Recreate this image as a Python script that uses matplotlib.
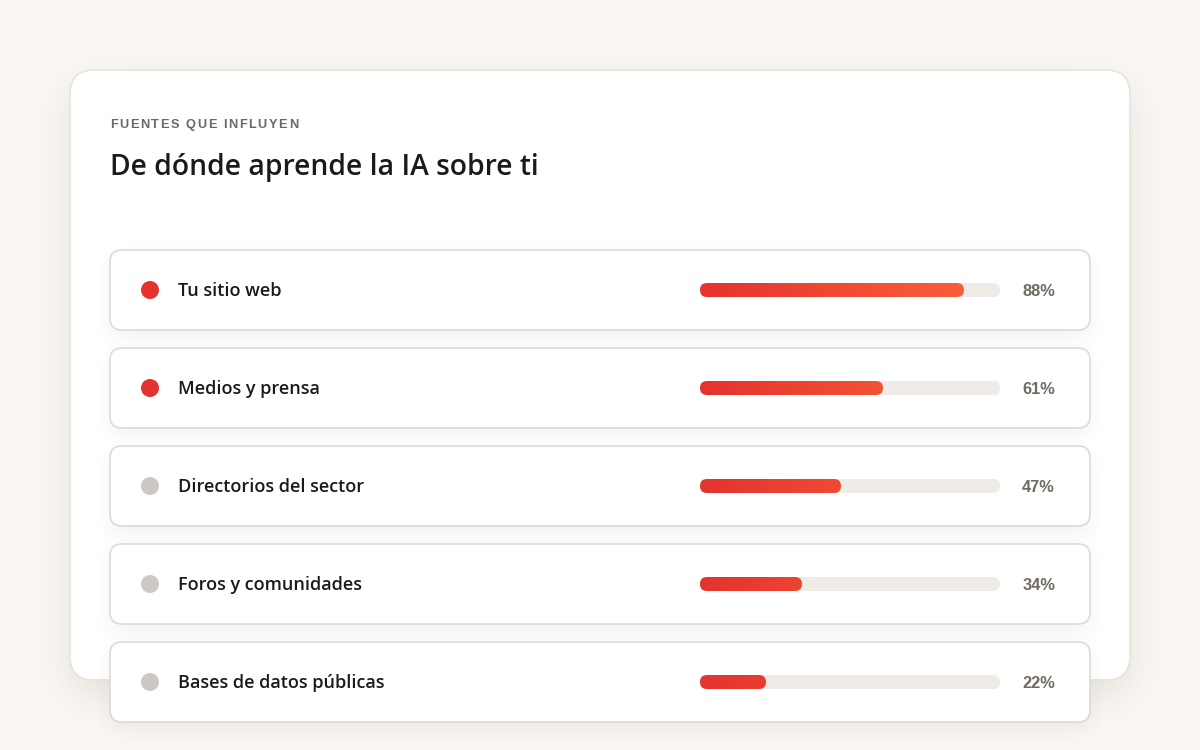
import numpy as np
import matplotlib.pyplot as plt
from matplotlib.patches import FancyBboxPatch, Circle
from matplotlib.colors import LinearSegmentedColormap

# data
labels = ['Tu sitio web', 'Medios y prensa', 'Directorios del sector',
          'Foros y comunidades', 'Bases de datos públicas']
values = [88, 61, 47, 34, 22]
highlight = [True, True, False, False, False]

kicker = 'FUENTES QUE INFLUYEN'
title = 'De dónde aprende la IA sobre ti'

plt.rcParams['font.family'] = ['Open Sans', 'DejaVu Sans']
bold_fam = ['Liberation Sans', 'DejaVu Sans']

W, H = 1200, 750
fig = plt.figure(figsize=(12, 7.5), dpi=100)
fig.patch.set_facecolor('#f9f6f3')
ax = fig.add_axes([0, 0, 1, 1])
ax.set_xlim(0, W)
ax.set_ylim(H, 0)
ax.axis('off')


def rbox(x, y, w, h, r, fc, ec='none', lw=0, z=1, alpha=1.0):
    p = FancyBboxPatch((x + r, y + r), w - 2 * r, h - 2 * r,
                       boxstyle='round,pad=%g' % r, fc=fc, ec=ec, lw=lw,
                       zorder=z, alpha=alpha)
    ax.add_patch(p)
    return p


def blur1d(a, s, axis):
    k = np.arange(-3 * s, 3 * s + 1)
    k = np.exp(-0.5 * (k / s) ** 2)
    k /= k.sum()
    return np.apply_along_axis(lambda m: np.convolve(m, k, mode='same'), axis, a)


# blurred shadow drawn as an image
def shadow(x, y, w, h, r, dy, sigma, strength, z):
    pad = int(4 * sigma)
    gx = np.arange(x - pad, x + w + pad) + 0.5
    gy = np.arange(y - pad, y + h + pad) + 0.5
    X, Y = np.meshgrid(gx, gy)
    cx = np.clip(X, x + r, x + w - r)
    cy = np.clip(Y, y + r, y + h - r)
    m = ((X - cx) ** 2 + (Y - cy) ** 2 <= r * r).astype(float)
    m = blur1d(blur1d(m, sigma, 0), sigma, 1)
    img = np.zeros(m.shape + (4,))
    img[..., 0] = 0.35
    img[..., 1] = 0.30
    img[..., 2] = 0.26
    img[..., 3] = m * strength
    ax.imshow(img, extent=(x - pad, x + w + pad, y + h + pad + dy, y - pad + dy),
              zorder=z, interpolation='bilinear', aspect='auto')


# main card
shadow(70, 70, 1060, 610, 24, 16, 18, 0.12, 1)
rbox(70, 70, 1060, 610, 24, 'white', ec='#e6e2de', lw=1.2, z=2)

# kicker with letter spacing
fig.canvas.draw()
rend = fig.canvas.get_renderer()
xk = 110
for ch in kicker:
    t = ax.text(xk, 125, ch, fontsize=9.2, fontweight='bold', color='#6f6760',
                family=bold_fam, va='center', ha='left', zorder=5)
    bb = t.get_window_extent(rend)
    adv = bb.width if ch != ' ' else 3.5
    xk += adv + 1.6

ax.text(110, 168, title, fontsize=20.3, fontweight='semibold', color='#1c1a18',
        va='center', ha='left', zorder=5)

# rows
row_top0, row_step, row_h = 250, 98, 80
track_x, track_w, track_h = 700, 300, 14
grad = np.linspace(0, 1, 256).reshape(1, -1)
cmap = LinearSegmentedColormap.from_list('bar', ['#e4332e', '#fe643b'])

for i, (lab, v, hl) in enumerate(zip(labels, values, highlight)):
    y0 = row_top0 + i * row_step
    yc = y0 + row_h / 2
    shadow(110, y0, 980, row_h, 12, 8, 9, 0.07, 6)
    rbox(110, y0, 980, row_h, 12, 'white', ec='#dedad6', lw=1.2, z=7)
    ax.add_patch(Circle((150, yc), 9, fc='#e4332e' if hl else '#cbc8c5',
                        ec='none', zorder=8))
    ax.text(178, yc + 1, lab, fontsize=13, fontweight='semibold',
            color='#1c1a18', va='center', ha='left', zorder=8)
    # track
    rbox(track_x, yc - track_h / 2, track_w, track_h, track_h / 2,
         '#efebe7', z=8)
    fw = track_w * v / 100
    clip = rbox(track_x, yc - track_h / 2, fw, track_h, track_h / 2,
                'none', z=9)
    im = ax.imshow(grad, cmap=cmap, aspect='auto', zorder=9,
                   extent=(track_x, track_x + track_w, yc + track_h / 2,
                           yc - track_h / 2), interpolation='bilinear')
    im.set_clip_path(clip)
    ax.text(1055, yc + 1, '%d%%' % v, fontsize=11.8, fontweight='bold',
            family=bold_fam, color='#716a63', va='center', ha='right', zorder=8)

ax.set_xlim(0, W)
ax.set_ylim(H, 0)
fig.savefig('out.png', dpi=100, facecolor=fig.get_facecolor())
